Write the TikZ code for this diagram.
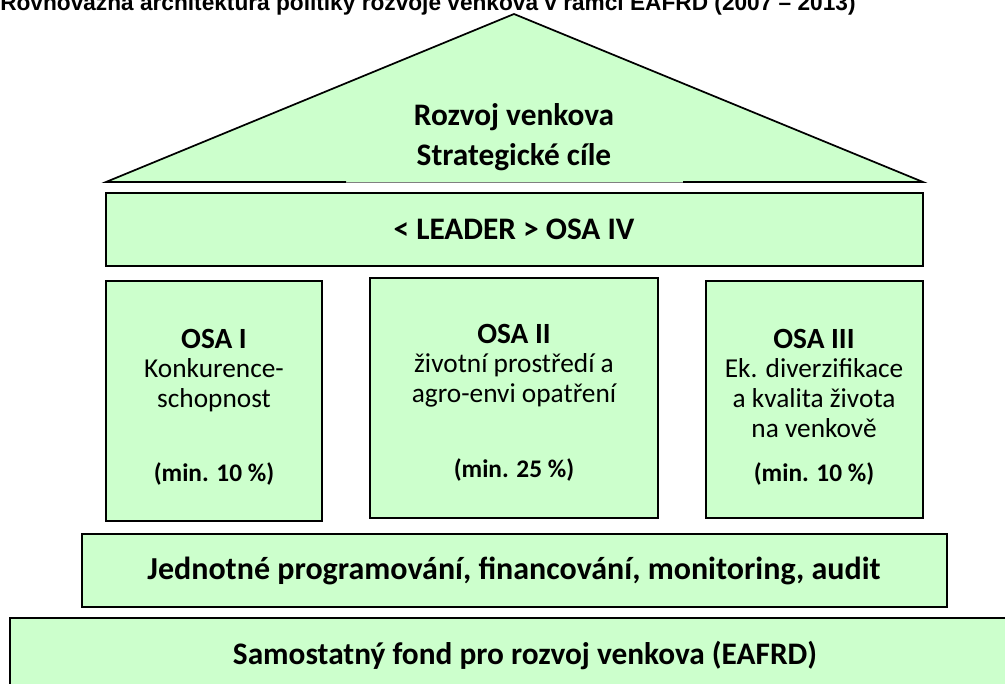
\documentclass[tikz,border=0pt]{standalone}
\usepackage{fontspec}
\setmainfont{Carlito}
\newfontfamily\titlefont{Liberation Sans}
\definecolor{lgreen}{RGB}{204,255,204}
\begin{document}
\begin{tikzpicture}[x=0.75pt,y=-0.75pt,
  box/.style={draw=black, line width=1.3pt, fill=lgreen},
  bigtxt/.style={font=\bfseries\fontsize{23.5}{28}\selectfont, inner sep=0pt},
  headtxt/.style={font=\bfseries\fontsize{22}{26}\selectfont, inner sep=0pt},
  bodytxt/.style={font=\fontsize{20.5}{24}\selectfont, inner sep=0pt, anchor=base},
  mintxt/.style={font=\bfseries\fontsize{19}{23}\selectfont, inner sep=0pt}]
\useasboundingbox (0,0) rectangle (1005,684);
\clip (0,0) rectangle (1005,684);
\fill[white] (0,0) rectangle (1005,684);
% title (cut off at top)
\node[anchor=base west, font=\titlefont\bfseries\fontsize{17}{20}\selectfont, inner sep=0pt] (title) at (0,11)
  {Rovnovážná architektura politiky rozvoje venkova v rámci EAFRD (2007 – 2013)};
% roof
\fill[lgreen] (106,182) -- (514,14) -- (923,182) -- cycle;
\draw[line width=1.3pt, line join=miter] (346,182) -- (106,182) -- (514,14) -- (923,182) -- (683,182);
\draw[gray, line width=0.7pt] (346,182) -- (683,182);
\node[bigtxt] (rv) at (514,117) {Rozvoj venkova};
\node[bigtxt] (sc) at (514,157) {Strategické cíle};
% leader
\path[box] (106,193) rectangle (923,266);
\node[bigtxt] (leader) at (514,229) {< LEADER > OSA IV};
% OSA boxes
\path[box] (106,281) rectangle (322,521);
\path[box] (370,278) rectangle (658,518);
\path[box] (706,281) rectangle (923,518);
\node[headtxt] (h1) at (214,339) {OSA I};
\node[headtxt] (h2) at (514,334) {OSA II};
\node[headtxt] (h3) at (814,339) {OSA III};
\node[bodytxt] (b1a) at (214,377) {Konkurence-};
\node[bodytxt] (b1b) at (214,407) {schopnost};
\node[bodytxt] (b2a) at (514,372) {životní prostředí a};
\node[bodytxt] (b2b) at (514,402) {agro-envi opatření};
\node[bodytxt] (b3a) at (814,377) {Ek. diverzifikace};
\node[bodytxt] (b3b) at (814,407) {a kvalita života};
\node[bodytxt] (b3c) at (814,437) {na venkově};
\node[mintxt] (m1) at (214,474) {(min. 10 \%)};
\node[mintxt] (m2) at (514,470) {(min. 25 \%)};
\node[mintxt] (m3) at (814,474) {(min. 10 \%)};
% bottom bars
\path[box] (82,534) rectangle (947,607);
\node[bigtxt, font=\bfseries\fontsize{24}{28}\selectfont] (jp) at (514,571) {Jednotné programování, financování, monitoring, audit};
\path[box] (10,618) rectangle (1020,700);
\node[bigtxt] (sf) at (525,656) {Samostatný fond pro rozvoj venkova (EAFRD)};
\end{tikzpicture}
\end{document}
